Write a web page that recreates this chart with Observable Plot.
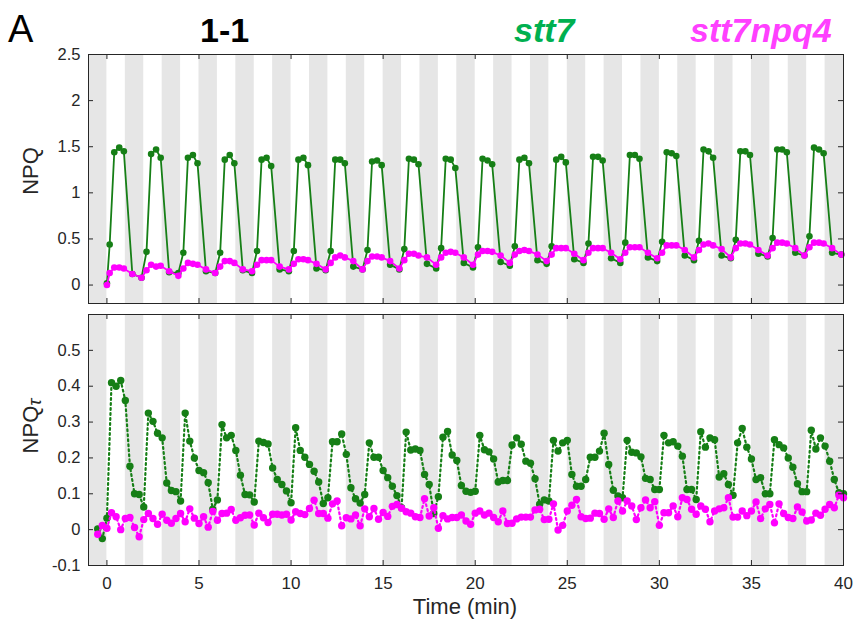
<!DOCTYPE html>
<html><head><meta charset="utf-8">
<script src="https://cdn.jsdelivr.net/npm/d3@7"></script>
<script src="https://cdn.jsdelivr.net/npm/@observablehq/plot@0.6"></script>
<style>
body{margin:0;background:#fff;}
#wrap{position:relative;width:855px;height:623px;overflow:hidden;font-family:"Liberation Sans",Arial,sans-serif;color:#262626;}
.abs{position:absolute;white-space:nowrap;line-height:1;}
.plot{position:absolute;left:0;}
</style></head><body>
<div id="wrap">
  <div class="abs" style="left:8px;top:10px;font-size:38px;color:#000;">A</div>
  <div class="abs" style="left:200px;top:13px;font-size:34px;font-weight:bold;color:#000;">1-1</div>
  <div class="abs" style="left:514px;top:13px;font-size:34px;font-weight:bold;font-style:italic;color:#00b050;">stt7</div>
  <div class="abs" style="left:690px;top:13px;font-size:34px;font-weight:bold;font-style:italic;color:#ff40ff;">stt7npq4</div>
  <div class="abs" style="left:31px;top:171px;font-size:22px;transform:translate(-50%,-50%) rotate(-90deg);">NPQ</div>
  <div class="abs" style="left:31px;top:426px;font-size:22px;transform:translate(-50%,-50%) rotate(-90deg);">NPQ<span style="font-style:italic;font-size:19px;position:relative;top:3px;">τ</span></div>
  <div class="abs" style="left:465px;top:607px;font-size:22px;transform:translate(-50%,-50%);">Time (min)</div>
  <div id="top" class="plot" style="top:0;"></div>
  <div id="bot" class="plot" style="top:310px;"></div>
</div>
<script>
// dark periods (gray stripes), minutes
const darkStart = [-1,1,3,5,7,9,11,13,15,17,19,21,23,25,27,29,31,33,35,37,39];
const darkEnd   = [0,2,4,6,8,10,12,14,16,18,20,22,24,26,28,30,32,34,36,38,40];

// tick values
const xTicks = [0,5,10,15,20,25,30,35,40];
const yTicksTop = [0,0.5,1,1.5,2,2.5];
const yTicksBot = [-0.1,0,0.1,0.2,0.3,0.4,0.5];

// NPQ sampling times (min)
const npqTime = [0,
 0.15,0.4,0.67,0.92,1.38,1.88, 2.15,2.4,2.67,2.92,3.38,3.88, 4.15,4.4,4.67,4.92,5.38,5.88,
 6.15,6.4,6.67,6.92,7.38,7.88, 8.15,8.4,8.67,8.92,9.38,9.88, 10.15,10.4,10.67,10.92,11.38,11.88,
 12.15,12.4,12.67,12.92,13.38,13.88, 14.15,14.4,14.67,14.92,15.38,15.88, 16.15,16.4,16.67,16.92,17.38,17.88,
 18.15,18.4,18.67,18.92,19.38,19.88, 20.15,20.4,20.67,20.92,21.38,21.88, 22.15,22.4,22.67,22.92,23.38,23.88,
 24.15,24.4,24.67,24.92,25.38,25.88, 26.15,26.4,26.67,26.92,27.38,27.88, 28.15,28.4,28.67,28.92,29.38,29.88,
 30.15,30.4,30.67,30.92,31.38,31.88, 32.15,32.4,32.67,32.92,33.38,33.88, 34.15,34.4,34.67,34.92,35.38,35.88,
 36.15,36.4,36.67,36.92,37.38,37.88, 38.15,38.4,38.67,38.92,39.38,39.88];

const npqStt7 = [0.02,
 0.44,1.44,1.49,1.45,0.12,0.08, 0.36,1.42,1.47,1.38,0.14,0.13, 0.35,1.38,1.41,1.32,0.15,0.13,
 0.35,1.36,1.41,1.32,0.16,0.13, 0.37,1.36,1.38,1.29,0.17,0.15, 0.37,1.36,1.38,1.30,0.18,0.16,
 0.37,1.36,1.36,1.32,0.20,0.17, 0.38,1.34,1.35,1.30,0.22,0.17, 0.39,1.37,1.36,1.31,0.23,0.18,
 0.40,1.37,1.36,1.27,0.24,0.19, 0.41,1.37,1.35,1.31,0.25,0.21, 0.42,1.36,1.38,1.32,0.27,0.23,
 0.42,1.36,1.39,1.33,0.28,0.24, 0.45,1.39,1.39,1.35,0.29,0.24, 0.46,1.41,1.41,1.37,0.30,0.26,
 0.47,1.44,1.43,1.40,0.32,0.27, 0.48,1.47,1.45,1.38,0.32,0.29, 0.49,1.45,1.45,1.41,0.34,0.31,
 0.51,1.47,1.47,1.44,0.35,0.32, 0.53,1.49,1.47,1.43,0.35,0.33];

const npqStt7npq4 = [0.00,
 0.13,0.19,0.19,0.18,0.12,0.08, 0.16,0.22,0.20,0.21,0.15,0.10, 0.18,0.24,0.23,0.22,0.17,0.13,
 0.20,0.26,0.26,0.24,0.17,0.15, 0.22,0.27,0.27,0.27,0.20,0.17, 0.23,0.28,0.28,0.27,0.23,0.17,
 0.24,0.30,0.32,0.30,0.26,0.17, 0.26,0.31,0.31,0.30,0.26,0.18, 0.27,0.34,0.34,0.32,0.30,0.22,
 0.30,0.35,0.36,0.35,0.30,0.22, 0.33,0.37,0.37,0.36,0.32,0.24, 0.33,0.37,0.38,0.37,0.33,0.26,
 0.33,0.40,0.40,0.40,0.34,0.27, 0.35,0.40,0.40,0.40,0.35,0.28, 0.35,0.41,0.41,0.41,0.35,0.29,
 0.35,0.43,0.43,0.43,0.38,0.30, 0.38,0.44,0.45,0.43,0.39,0.30, 0.40,0.45,0.45,0.44,0.38,0.32,
 0.40,0.46,0.46,0.45,0.40,0.32, 0.41,0.46,0.46,0.45,0.40,0.33];

// NPQtau sampling times (min)
const tauTime = [-0.5,-0.25,
 0,0.25,0.5,0.75,1,1.25,1.5,1.75,2,2.25,2.5,2.75,3,3.25,3.5,3.75,4,4.25,4.5,4.75,
 5,5.25,5.5,5.75,6,6.25,6.5,6.75,7,7.25,7.5,7.75,8,8.25,8.5,8.75,9,9.25,9.5,9.75,
 10,10.25,10.5,10.75,11,11.25,11.5,11.75,12,12.25,12.5,12.75,13,13.25,13.5,13.75,14,14.25,14.5,14.75,
 15,15.25,15.5,15.75,16,16.25,16.5,16.75,17,17.25,17.5,17.75,18,18.25,18.5,18.75,19,19.25,19.5,19.75,
 20,20.25,20.5,20.75,21,21.25,21.5,21.75,22,22.25,22.5,22.75,23,23.25,23.5,23.75,24,24.25,24.5,24.75,
 25,25.25,25.5,25.75,26,26.25,26.5,26.75,27,27.25,27.5,27.75,28,28.25,28.5,28.75,29,29.25,29.5,29.75,
 30,30.25,30.5,30.75,31,31.25,31.5,31.75,32,32.25,32.5,32.75,33,33.25,33.5,33.75,34,34.25,34.5,34.75,
 35,35.25,35.5,35.75,36,36.25,36.5,36.75,37,37.25,37.5,37.75,38,38.25,38.5,38.75,39,39.25,39.5,39.75,40];

const tauStt7 = [0.002,-0.025,
 0.032,0.41,0.40,0.416,0.36,0.177,0.10,0.098,0.063,0.325,0.302,0.269,0.256,0.13,0.109,0.106,0.08,0.325,0.247,0.2,
 0.165,0.159,0.131,0.057,0.083,0.293,0.256,0.263,0.221,0.152,0.098,0.097,0.077,0.247,0.243,0.239,0.172,0.14,0.126,0.108,
 0.075,0.284,0.221,0.202,0.182,0.163,0.133,0.073,0.089,0.245,0.245,0.267,0.21,0.117,0.086,0.074,0.098,0.242,0.202,0.202,
 0.165,0.145,0.121,0.095,0.061,0.272,0.222,0.225,0.221,0.154,0.126,0.045,0.092,0.258,0.274,0.208,0.193,0.123,0.107,0.104,
 0.107,0.263,0.223,0.217,0.197,0.133,0.137,0.137,0.236,0.256,0.238,0.191,0.185,0.142,0.071,0.083,0.08,0.249,0.219,0.242,
 0.249,0.154,0.121,0.121,0.14,0.202,0.202,0.219,0.269,0.182,0.11,0.094,0.089,0.249,0.216,0.214,0.203,0.143,0.14,0.112,
 0.112,0.263,0.242,0.245,0.233,0.205,0.112,0.112,0.084,0.273,0.23,0.256,0.251,0.147,0.156,0.126,0.096,0.242,0.282,0.23,
 0.197,0.14,0.145,0.1,0.1,0.251,0.237,0.228,0.2,0.174,0.128,0.106,0.106,0.277,0.225,0.256,0.233,0.191,0.14,0.103,0.1];

const tauStt7npq4 = [-0.013,0.012,
 0.004,0.047,0.036,0.0,0.031,0.034,0.006,-0.02,0.028,0.045,0.031,0.015,0.043,0.026,0.018,0.031,0.045,0.022,0.058,0.032,
 0.017,0.036,0.007,0.051,0.026,0.045,0.046,0.056,0.026,0.033,0.04,0.041,0.013,0.046,0.033,0.02,0.043,0.043,0.041,0.043,
 0.027,0.05,0.045,0.042,0.059,0.082,0.045,0.045,0.032,0.072,0.08,0.011,0.033,0.03,0.041,0.011,0.058,0.036,0.059,0.029,
 0.048,0.037,0.065,0.07,0.06,0.05,0.046,0.036,0.034,0.086,0.038,0.061,0.004,0.039,0.03,0.034,0.034,0.041,0.024,0.015,
 0.046,0.052,0.041,0.046,0.034,0.022,0.052,0.017,0.018,0.03,0.035,0.035,0.035,0.055,0.057,0.028,0.029,0.072,-0.001,0.012,
 0.052,0.068,0.084,0.036,0.031,0.032,0.046,0.045,0.029,0.058,0.034,0.08,0.052,0.08,0.066,0.028,0.061,0.083,0.061,0.078,
 0.012,0.047,0.047,0.066,0.036,0.089,0.084,0.057,0.043,0.066,0.057,0.022,0.052,0.058,0.061,0.089,0.035,0.035,0.052,0.039,
 0.052,0.077,0.031,0.058,0.07,0.019,0.072,0.045,0.034,0.031,0.063,0.049,0.024,0.027,0.046,0.04,0.057,0.07,0.061,0.096,0.089];

const GREEN = "#167f16", MAGENTA = "#ff00ff", AXIS = "#262626", STRIPE = "#e6e6e6";
const W = 855, ML = 88, MR = 12;
const PW = W - ML - MR;

const zip = (t, v) => t.map((x, i) => ({t: x, v: v[i]}));
const stripes = darkStart.map((s, i) => ({s, e: darkEnd[i]}));

function panel({height, mt, mb, yDomain, yTicks, series, dotted, r, showX}) {
  const PH = height - mt - mb;
  const marks = [
    Plot.rect(stripes, {x1: "s", x2: "e", y1: () => yDomain[0], y2: () => yDomain[1], fill: STRIPE}),
  ];
  for (const s of series) {
    marks.push(Plot.line(s.data, {x: "t", y: "v", stroke: s.color, strokeWidth: dotted ? 2.2 : 1.8,
      strokeDasharray: dotted ? "1.8,3.2" : null}));
    marks.push(Plot.dot(s.data, {x: "t", y: "v", r, fill: s.color, stroke: "none"}));
  }
  marks.push(
    Plot.tickY(yTicks, {y: d => d, insetRight: PW - 5, stroke: AXIS}),
    Plot.tickY(yTicks, {y: d => d, insetLeft: PW - 5, stroke: AXIS}),
    Plot.tickX(xTicks, {x: d => d, insetTop: PH - 5, stroke: AXIS}),
    Plot.tickX(xTicks, {x: d => d, insetBottom: PH - 5, stroke: AXIS}),
    Plot.frame({stroke: AXIS, strokeWidth: 1}),
    Plot.axisY(yTicks, {tickSize: 0, tickPadding: 8, label: null, tickFormat: d => String(d), fontSize: 16.5, fill: AXIS})
  );
  if (showX) marks.push(Plot.axisX(xTicks, {tickSize: 0, tickPadding: 11, label: null, tickFormat: d => String(d), fontSize: 17, fill: AXIS}));
  else marks.push(Plot.axisX([], {label: null}));
  return Plot.plot({
    width: W, height, marginTop: mt, marginBottom: mb, marginLeft: ML, marginRight: MR,
    x: {domain: [-1, 40]},
    y: {domain: yDomain},
    style: {fontFamily: "Liberation Sans, Arial, sans-serif", background: "transparent", overflow: "visible", color: AXIS},
    marks
  });
}

document.getElementById("top").appendChild(panel({
  height: 310, mt: 54, mb: 7, yDomain: [-0.2, 2.5], yTicks: yTicksTop, r: 3.3, dotted: false, showX: false,
  series: [{data: zip(npqTime, npqStt7), color: GREEN}, {data: zip(npqTime, npqStt7npq4), color: MAGENTA}]
}));
document.getElementById("bot").appendChild(panel({
  height: 313, mt: 4, mb: 58, yDomain: [-0.1, 0.6], yTicks: yTicksBot, r: 3.7, dotted: true, showX: true,
  series: [{data: zip(tauTime, tauStt7), color: GREEN}, {data: zip(tauTime, tauStt7npq4), color: MAGENTA}]
}));
</script>
</body></html>
